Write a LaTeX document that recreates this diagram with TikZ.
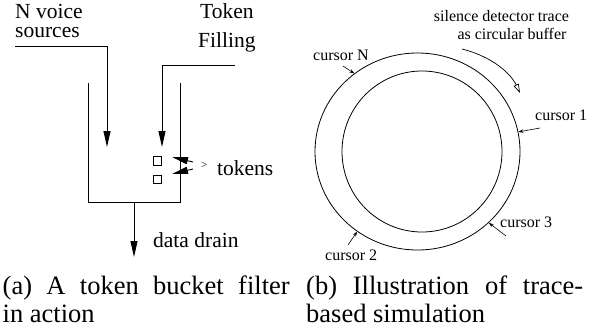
\documentclass[tikz,border=0pt]{standalone}
\usepackage{fontspec}
\setmainfont{Liberation Serif}
\usetikzlibrary{arrows.meta,shapes.geometric}
\tikzset{
  lbig/.style={font=\fontsize{21.5}{24}\selectfont, inner sep=0pt, anchor=base west},
  lsmall/.style={font=\fontsize{16}{18}\selectfont, inner sep=0pt},
  capt/.style={font=\fontsize{26.5}{30}\selectfont, inner sep=0pt, anchor=base west},
  wire/.style={line width=0.9pt},
  flow/.style={wire, -{Triangle[length=16pt,width=7pt]}},
  ring/.style={draw, ellipse, line width=0.8pt, inner sep=0pt},
  cursorarrow/.style={line width=0.6pt, -{Stealth[length=5pt,width=3.5pt]}},
  tokenbox/.style={draw, line width=0.7pt, minimum size=8.5pt, inner sep=0pt},
}
\begin{document}
\begin{tikzpicture}[x=1pt,y=-1pt]
\useasboundingbox (0,0) rectangle (592,327);

% ---------- token bucket ----------
\node[lbig] (nvoice) at (15,18.5) {N voice};
\node[lbig] (sources) at (15,37) {sources};
\node[lbig] (token) at (200,18) {Token};
\node[lbig] (filling) at (198,47) {Filling};

\coordinate (srcStart) at (15,46.5);
\coordinate (srcEnd) at (107,147);
\coordinate (fillStart) at (235,65);
\coordinate (fillEnd) at (162,147);
\draw[flow] (srcStart) -| (srcEnd);
\draw[flow] (fillStart) -| (fillEnd);

% bucket walls
\coordinate (wallLtop) at (88.3,83);
\coordinate (wallLbot) at (88.3,202);
\coordinate (wallRbot) at (180,202);
\coordinate (wallRtop) at (180,83);
\draw[wire] (wallLtop) -- (wallLbot) -- (wallRbot) -- (wallRtop);

% drain
\coordinate (drainTop) at (134,202);
\coordinate (drainEnd) at (134,257);
\draw[flow] (drainTop) -- (drainEnd);
\node[lbig] (drain) at (153,247) {data drain};

% tokens
\node[tokenbox] (tok1) at (157.3,160.8) {};
\node[tokenbox] (tok2) at (157.3,179.3) {};
\coordinate (tkA) at (193,162);
\coordinate (tkAtip) at (172,157);
\coordinate (tkB) at (193,169);
\coordinate (tkBtip) at (172,174);
\draw[flow] (tkA) -- (tkAtip);
\draw[flow] (tkB) -- (tkBtip);
\node[font=\fontsize{11}{12}\selectfont, inner sep=0pt, anchor=base west] (gt) at (201,168) {>};
\node[lbig] (tokens) at (217,175) {tokens};

% ---------- circular trace ----------
\node[ring, minimum width=205pt, minimum height=197pt] (outer) at (417.5,151.5) {};
\node[ring, minimum width=160pt, minimum height=161pt] (inner) at (422,151.5) {};

\node[lsmall, anchor=base] (trace1) at (501.5,21) {silence detector trace};
\node[lsmall, anchor=base] (trace2) at (512,39) {as circular buffer};
\coordinate (dirStart) at (462,49);
\coordinate (dirEnd) at (520,93);
\draw[line width=0.7pt, -{Triangle[open,length=9pt,width=5.5pt]}]
  (dirStart) .. controls (490,56) and (510,72) .. (dirEnd);

\node[lsmall, anchor=base west] (curN) at (313,60) {cursor N};
\node[lsmall, anchor=base west] (cur1) at (535,120) {cursor 1};
\node[lsmall, anchor=base west] (cur3) at (500,227) {cursor 3};
\node[lsmall, anchor=base west] (cur2) at (325,260) {cursor 2};

\coordinate (pN) at (343,66);
\coordinate (p1) at (540,128);
\coordinate (p3) at (506,236);
\coordinate (p2) at (348,245);
\draw[cursorarrow] (pN) -- (outer.129);
\draw[cursorarrow] (p1) -- (outer.11);
\draw[cursorarrow] (p3) -- (outer.-45);
\draw[cursorarrow] (p2) -- (outer.-127);

% ---------- captions ----------
\node[capt] (capA1) at (2.5,294.5) {\makebox[287pt][s]{(a) A token bucket filter}};
\node[capt] (capA2) at (2.5,322.5) {in action};
\node[capt] (capB1) at (306,294.5) {\makebox[277pt][s]{(b) Illustration of trace-}};
\node[capt] (capB2) at (306,322.5) {based simulation};
\end{tikzpicture}
\end{document}
